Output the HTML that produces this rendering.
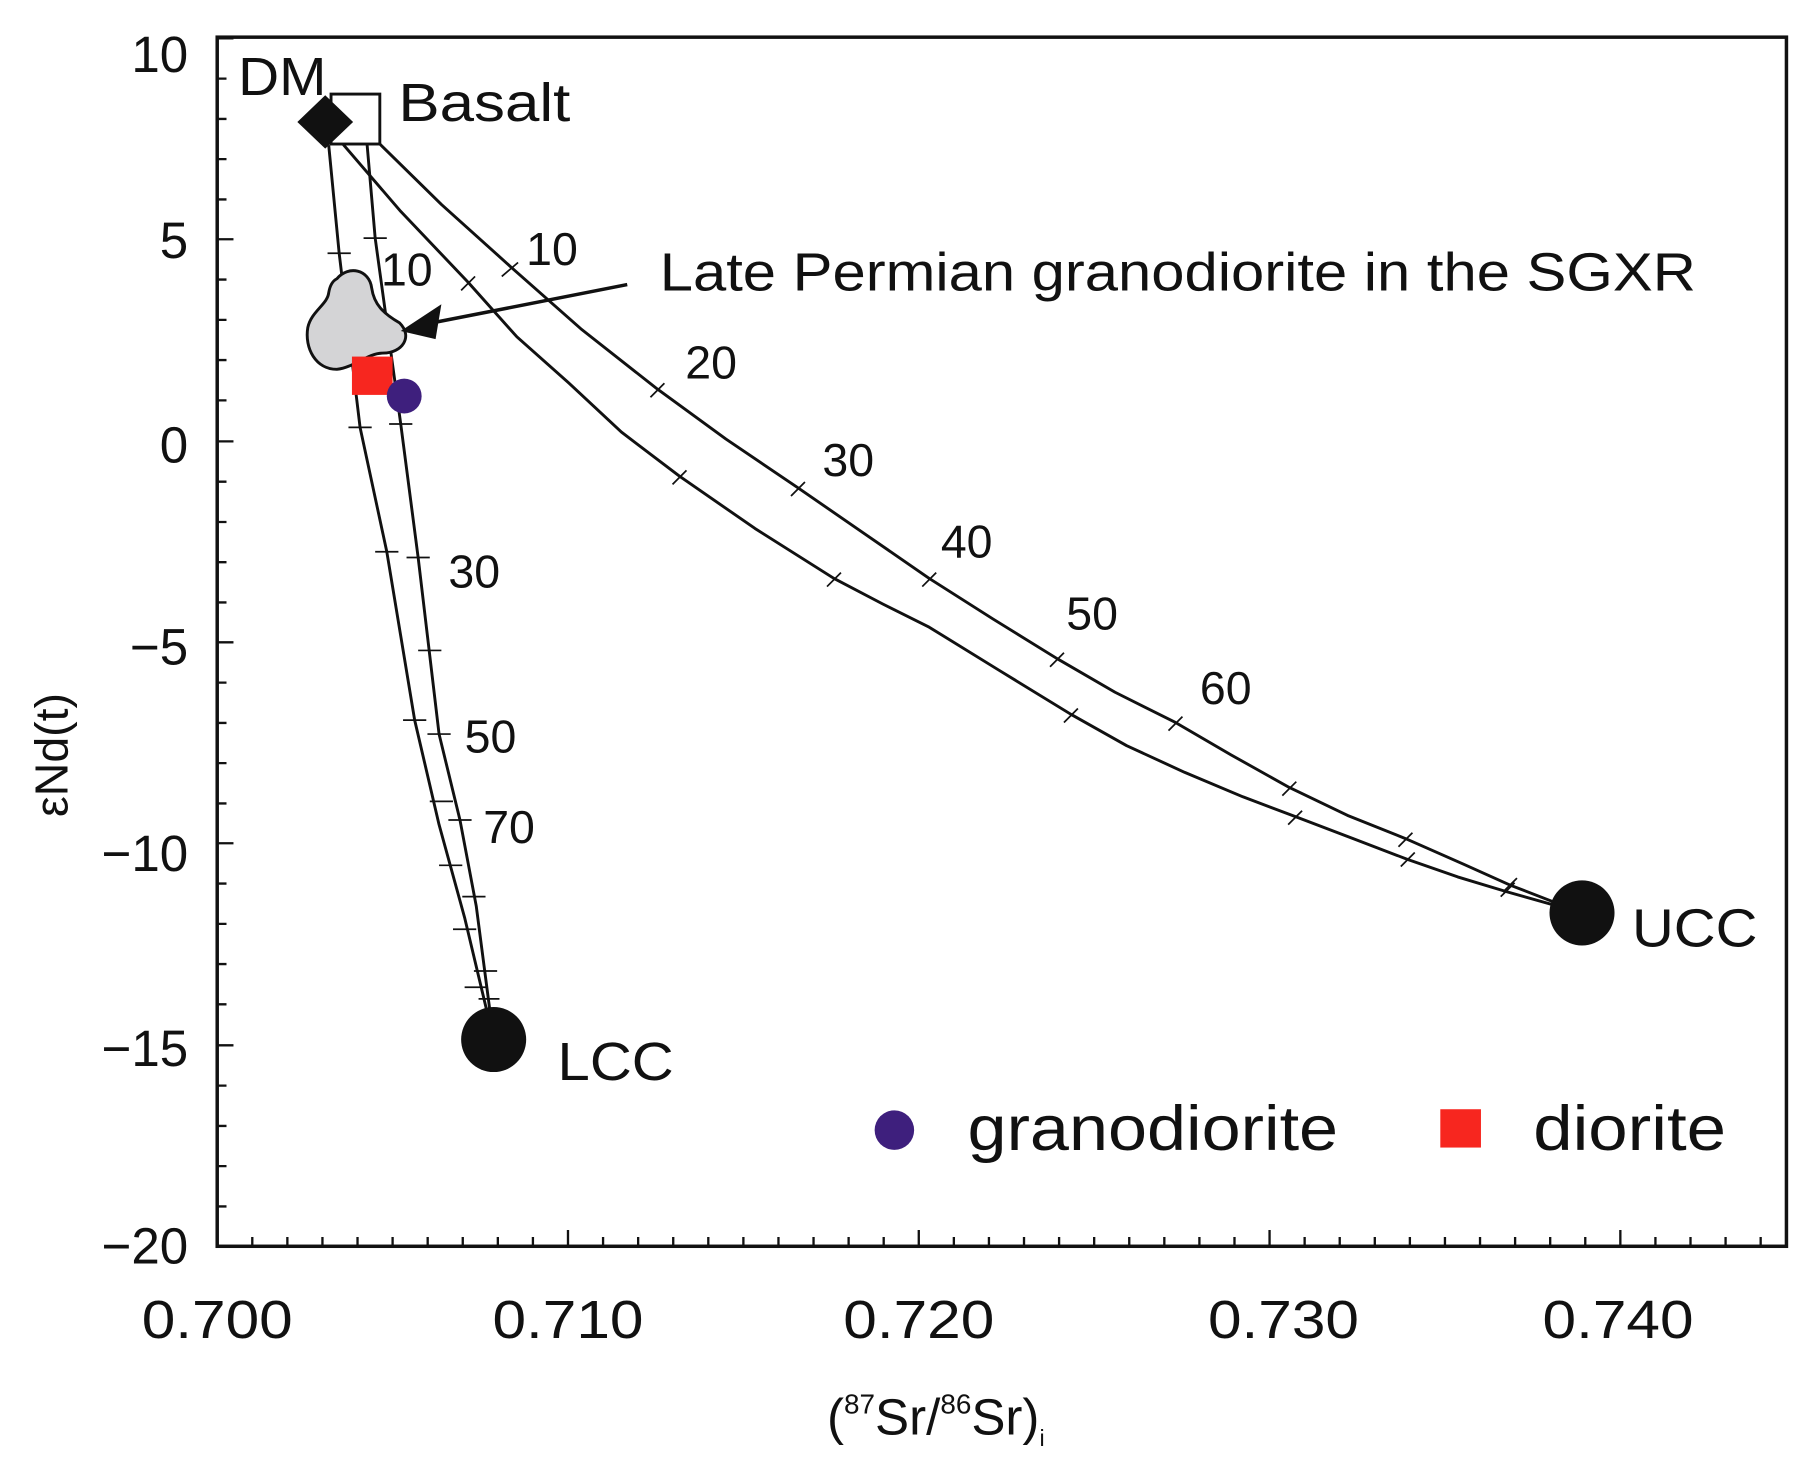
<!DOCTYPE html>
<html><head><style>html,body{margin:0;padding:0;background:#fff}svg{display:block}</style></head>
<body>
<svg width="1812" height="1460" viewBox="0 0 1560 1257" preserveAspectRatio="none" xmlns="http://www.w3.org/2000/svg" font-family="Liberation Sans, sans-serif">
<rect x="187" y="32" width="1351" height="1041" fill="none" stroke="#111" stroke-width="3"/>
<g stroke="#111" stroke-width="2">
<path d="M187 33h14M187 206h14M187 380h14M187 553h14M187 726h14M187 900h14M187 1073h14"/>
<path d="M187 67.7h8M187 102.4h8M187 137h8M187 171.7h8M187 240.7h8M187 275.4h8M187 310h8M187 344.7h8M187 414.7h8M187 449.4h8M187 484h8M187 518.7h8M187 587.7h8M187 622.4h8M187 657h8M187 691.7h8M187 760.7h8M187 795.4h8M187 830h8M187 864.7h8M187 934.7h8M187 969.4h8M187 1004h8M187 1038.7h8"/>
<path d="M187 1073v-14M489 1073v-14M791 1073v-14M1093 1073v-14M1395 1073v-14"/>
<path d="M217.2 1073v-8M247.4 1073v-8M277.6 1073v-8M307.8 1073v-8M338 1073v-8M368.2 1073v-8M398.4 1073v-8M428.6 1073v-8M458.8 1073v-8M519.2 1073v-8M549.4 1073v-8M579.6 1073v-8M609.8 1073v-8M640 1073v-8M670.2 1073v-8M700.4 1073v-8M730.6 1073v-8M760.8 1073v-8M821.2 1073v-8M851.4 1073v-8M881.6 1073v-8M911.8 1073v-8M942 1073v-8M972.2 1073v-8M1002.4 1073v-8M1032.6 1073v-8M1062.8 1073v-8M1123.2 1073v-8M1153.4 1073v-8M1183.6 1073v-8M1213.8 1073v-8M1244 1073v-8M1274.2 1073v-8M1304.4 1073v-8M1334.6 1073v-8M1364.8 1073v-8M1425.2 1073v-8M1455.4 1073v-8M1485.6 1073v-8M1515.8 1073v-8"/>
</g>
<g font-size="44" fill="#111" text-anchor="end">
<text x="162" y="62">10</text><text x="162" y="222">5</text><text x="162" y="398">0</text>
<text x="162" y="572">−5</text><text x="162" y="750">−10</text><text x="162" y="918">−15</text><text x="162" y="1088">−20</text>
</g>
<g font-size="46" fill="#111" lengthAdjust="spacingAndGlyphs">
<text x="122" y="1152" textLength="130" lengthAdjust="spacingAndGlyphs">0.700</text><text x="424" y="1152" textLength="130" lengthAdjust="spacingAndGlyphs">0.710</text><text x="726" y="1152" textLength="130" lengthAdjust="spacingAndGlyphs">0.720</text><text x="1040" y="1152" textLength="130" lengthAdjust="spacingAndGlyphs">0.730</text><text x="1328" y="1152" textLength="130" lengthAdjust="spacingAndGlyphs">0.740</text>
</g>
<text x="0" y="0" font-size="40" fill="#111" text-anchor="middle" transform="translate(58,650) rotate(-90)">εNd(t)</text>
<text x="712" y="1235" font-size="44" fill="#111">(<tspan font-size="24" dy="-18">87</tspan><tspan dy="18">Sr/</tspan><tspan font-size="24" dy="-18">86</tspan><tspan dy="18">Sr)</tspan><tspan font-size="20" dy="10">i</tspan></text>
<g fill="none" stroke="#111" stroke-width="2.5" stroke-linejoin="round">
<polyline points="327,124 380,176 440,230 500,283 566,335 625,378 687,420 745,460 800,498 855,533 910,567 960,596 1012,622 1060,650 1110,678 1160,702 1210,722 1260,744 1300,762 1362,786"/>
<polyline points="290,118 345,182 403,243 445,290 490,330 535,372 585,410 650,455 718,498 760,520 800,540 860,577 922,615 970,642 1020,665 1070,686 1115,703 1165,722 1212,740 1255,755 1298,768 1362,786"/>
<polyline points="283,125 292,218 310,368 333,475 357,620 378,710 400,790 425,895"/>
<polyline points="316,124 323,205 345,365 360,480 378,632 396,706 410,780 425,895"/>
</g>
<g stroke="#111" stroke-width="1.5">
<path d="M432 238l14-12M560 342l12-12M681 427l12-12M794 505l12-12M904 574l12-12M1006 629l12-12M1104 685l12-12M1204 729l12-12M1294 768l12-12"/>
<path d="M397 250l12-12M579 417l12-12M712 505l12-12M916 622l12-12M1109 710l12-12M1206 746l12-12M1292 772l12-12"/>
<path d="M282 218h20M300 368h20M323 475h20M347 620h20M370 690h20M378 745h20M390 800h20M400 850h20M408 880h18"/>
<path d="M313 205h20M335 365h20M350 480h20M360 560h20M368 632h20M386 706h20M398 772h20M408 836h20M412 860h18"/>
</g>
<path d="M290 240 C300 228 318 232 320 248 C322 262 330 270 344 278 C356 290 346 304 330 304 C316 304 306 316 290 318 C272 318 262 300 265 282 C268 268 282 262 283 252 C284 246 286 242 290 240Z" fill="#d4d4d6" stroke="#111" stroke-width="2.5"/>
<path d="M540 245 L372 278" stroke="#111" stroke-width="3"/>
<path d="M345 285 L380 262 L375 292 Z" fill="#111"/>
<rect x="285" y="81" width="42" height="43" fill="#fff" stroke="#111" stroke-width="2.5"/>
<path d="M280 82 L304 105 L280 128 L256 105 Z" fill="#111"/>
<circle cx="1362" cy="786" r="28" fill="#111"/>
<circle cx="425" cy="895" r="28" fill="#111"/>
<rect x="303" y="307" width="35" height="33" fill="#f7261f"/>
<circle cx="348" cy="341" r="15" fill="#3e1f7d"/>
<g font-size="46" fill="#111">
<text x="205" y="82" textLength="76" lengthAdjust="spacingAndGlyphs">DM</text><text x="343" y="104" textLength="148" lengthAdjust="spacingAndGlyphs">Basalt</text>
<text x="568" y="250" textLength="892" lengthAdjust="spacingAndGlyphs">Late Permian granodiorite in the SGXR</text>
<text x="1405" y="815" textLength="108" lengthAdjust="spacingAndGlyphs">UCC</text><text x="480" y="930" textLength="100" lengthAdjust="spacingAndGlyphs">LCC</text>
</g>
<g font-size="40" fill="#111">
<text x="453" y="228">10</text><text x="328" y="246">10</text><text x="590" y="326">20</text><text x="708" y="410">30</text>
<text x="810" y="480">40</text><text x="918" y="542">50</text><text x="1033" y="606">60</text>
<text x="386" y="506">30</text><text x="400" y="648">50</text><text x="416" y="726">70</text>
</g>
<circle cx="770" cy="973" r="17" fill="#3e1f7d"/>
<text x="833" y="990" font-size="54" fill="#111" textLength="319" lengthAdjust="spacingAndGlyphs">granodiorite</text>
<rect x="1240" y="955" width="35" height="33" fill="#f7261f"/>
<text x="1320" y="990" font-size="54" fill="#111" textLength="166" lengthAdjust="spacingAndGlyphs">diorite</text>
</svg>
</body></html>
